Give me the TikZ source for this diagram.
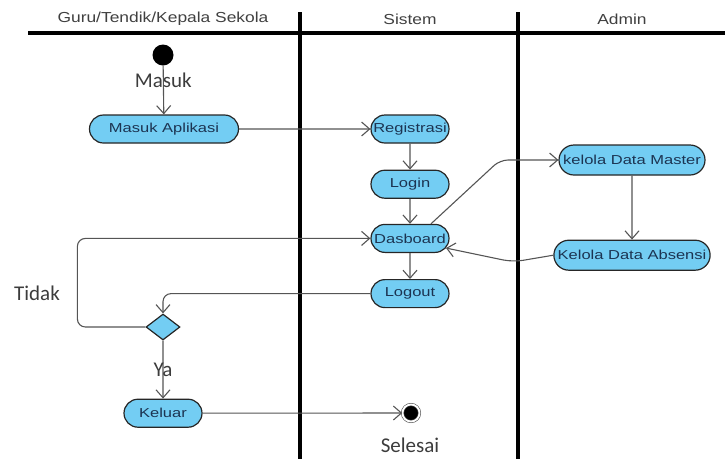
\documentclass[tikz,border=0pt]{standalone}
\usepackage{fontspec}
\usepackage{tikz}
\usetikzlibrary{arrows.meta, positioning, shapes.geometric, shapes.misc}

\newfontfamily\nodefont[FakeStretch=1.27]{Liberation Sans}
\newfontfamily\hdrfont[FakeStretch=1.2]{Liberation Sans}
\newfontfamily\lblfont{Carlito}

\definecolor{actblue}{RGB}{115,205,243}
\definecolor{acttext}{RGB}{28,52,82}
\definecolor{linegray}{RGB}{85,85,85}
\definecolor{lblgray}{RGB}{60,60,60}

\begin{document}
\begin{tikzpicture}[x=1pt, y=-1pt, node distance=26pt, >={Straight Barb[length=8pt,width=14pt]},
    act/.style={rounded rectangle, draw=black!85, line width=1.2pt, fill=actblue, text=acttext,
        font=\nodefont\fontsize{13}{15}\selectfont, minimum height=28pt, minimum width=84pt, inner xsep=3pt},
    flow/.style={->, draw=linegray, line width=1.1pt},
    lbl/.style={font=\lblfont\fontsize{21}{23}\selectfont, text=lblgray},
    hdr/.style={font=\hdrfont\fontsize{14.5}{16}\selectfont, text=black!75},
    lane/.style={line width=3.8pt}]
        \useasboundingbox (0,0) rectangle (725,459);

        % Swimlanes
        \draw[lane] (28,33) -- (725,33);
        \draw[lane] (300,12) -- (300,459);
        \draw[lane] (518,12) -- (518,459);
        \node[hdr] (hguru) at (163,19) {Guru/Tendik/Kepala Sekola};
        \node[hdr] (hsistem) at (410,19) {Sistem};
        \node[hdr] (hadmin) at (622,19) {Admin};

        % Nodes
        \node[circle, fill=black, minimum size=21pt, inner sep=0pt] (start) at (163,55) {};
        \node[act, minimum width=155pt] (maskapl) at (164,129) {Masuk Aplikasi};
        \node[act] (reg) at (410,129) {Registrasi};
        \node[act, below=of reg] (login) {Login};
        \node[act, below=25pt of login] (dasb) {Dasboard};
        \node[act, below=of dasb] (logout) {Logout};
        \node[act, minimum width=152pt, minimum height=30pt] (master) at (632,160) {kelola Data Master};
        \node[act, minimum width=152pt, minimum height=30pt, below=64pt of master] (absensi) {Kelola Data Absensi};
        \node[diamond, draw=black!85, line width=1.2pt, fill=actblue, aspect=1.3, minimum width=34pt,
            minimum height=26pt, inner sep=0pt] (dec) at (163,327) {};
        \node[act, below=58pt of dec] (keluar) {Keluar};
        \node[circle, fill=black, draw=black!70, double=white, double distance=1.8pt, line width=0.6pt,
            minimum size=17pt, inner sep=0pt] (end) at (411,413) {};
        \node[lbl] (tidak) at (37,293) {Tidak};
        \node[lbl] (selesai) at (410,445) {Selesai};

        % Connections
        \draw[flow] (start) -- node[lbl, pos=0.3, anchor=center] {Masuk} (maskapl);
        \draw[flow] (maskapl) -- (reg);
        \draw[flow] (reg) -- (login);
        \draw[flow] (login) -- (dasb);
        \draw[flow] (dasb) -- (logout);
        \draw[flow, rounded corners=8pt] ([xshift=21pt]dasb.north) -- (500,160) -- (master.west);
        \draw[flow] (master) -- (absensi);
        \draw[flow, rounded corners=10pt] (absensi.west) -- (513,262) -- (dasb.-15);
        \draw[flow, rounded corners=8pt] (logout.west) -| (dec.north);
        \draw[flow, rounded corners=8pt] (dec.west) -- ++(-68,0) |- (dasb.west);
        \draw[flow] (dec) -- node[lbl, anchor=center] {Ya} (keluar);
        \draw[flow] (keluar) -- (end);
\end{tikzpicture}
\end{document}
